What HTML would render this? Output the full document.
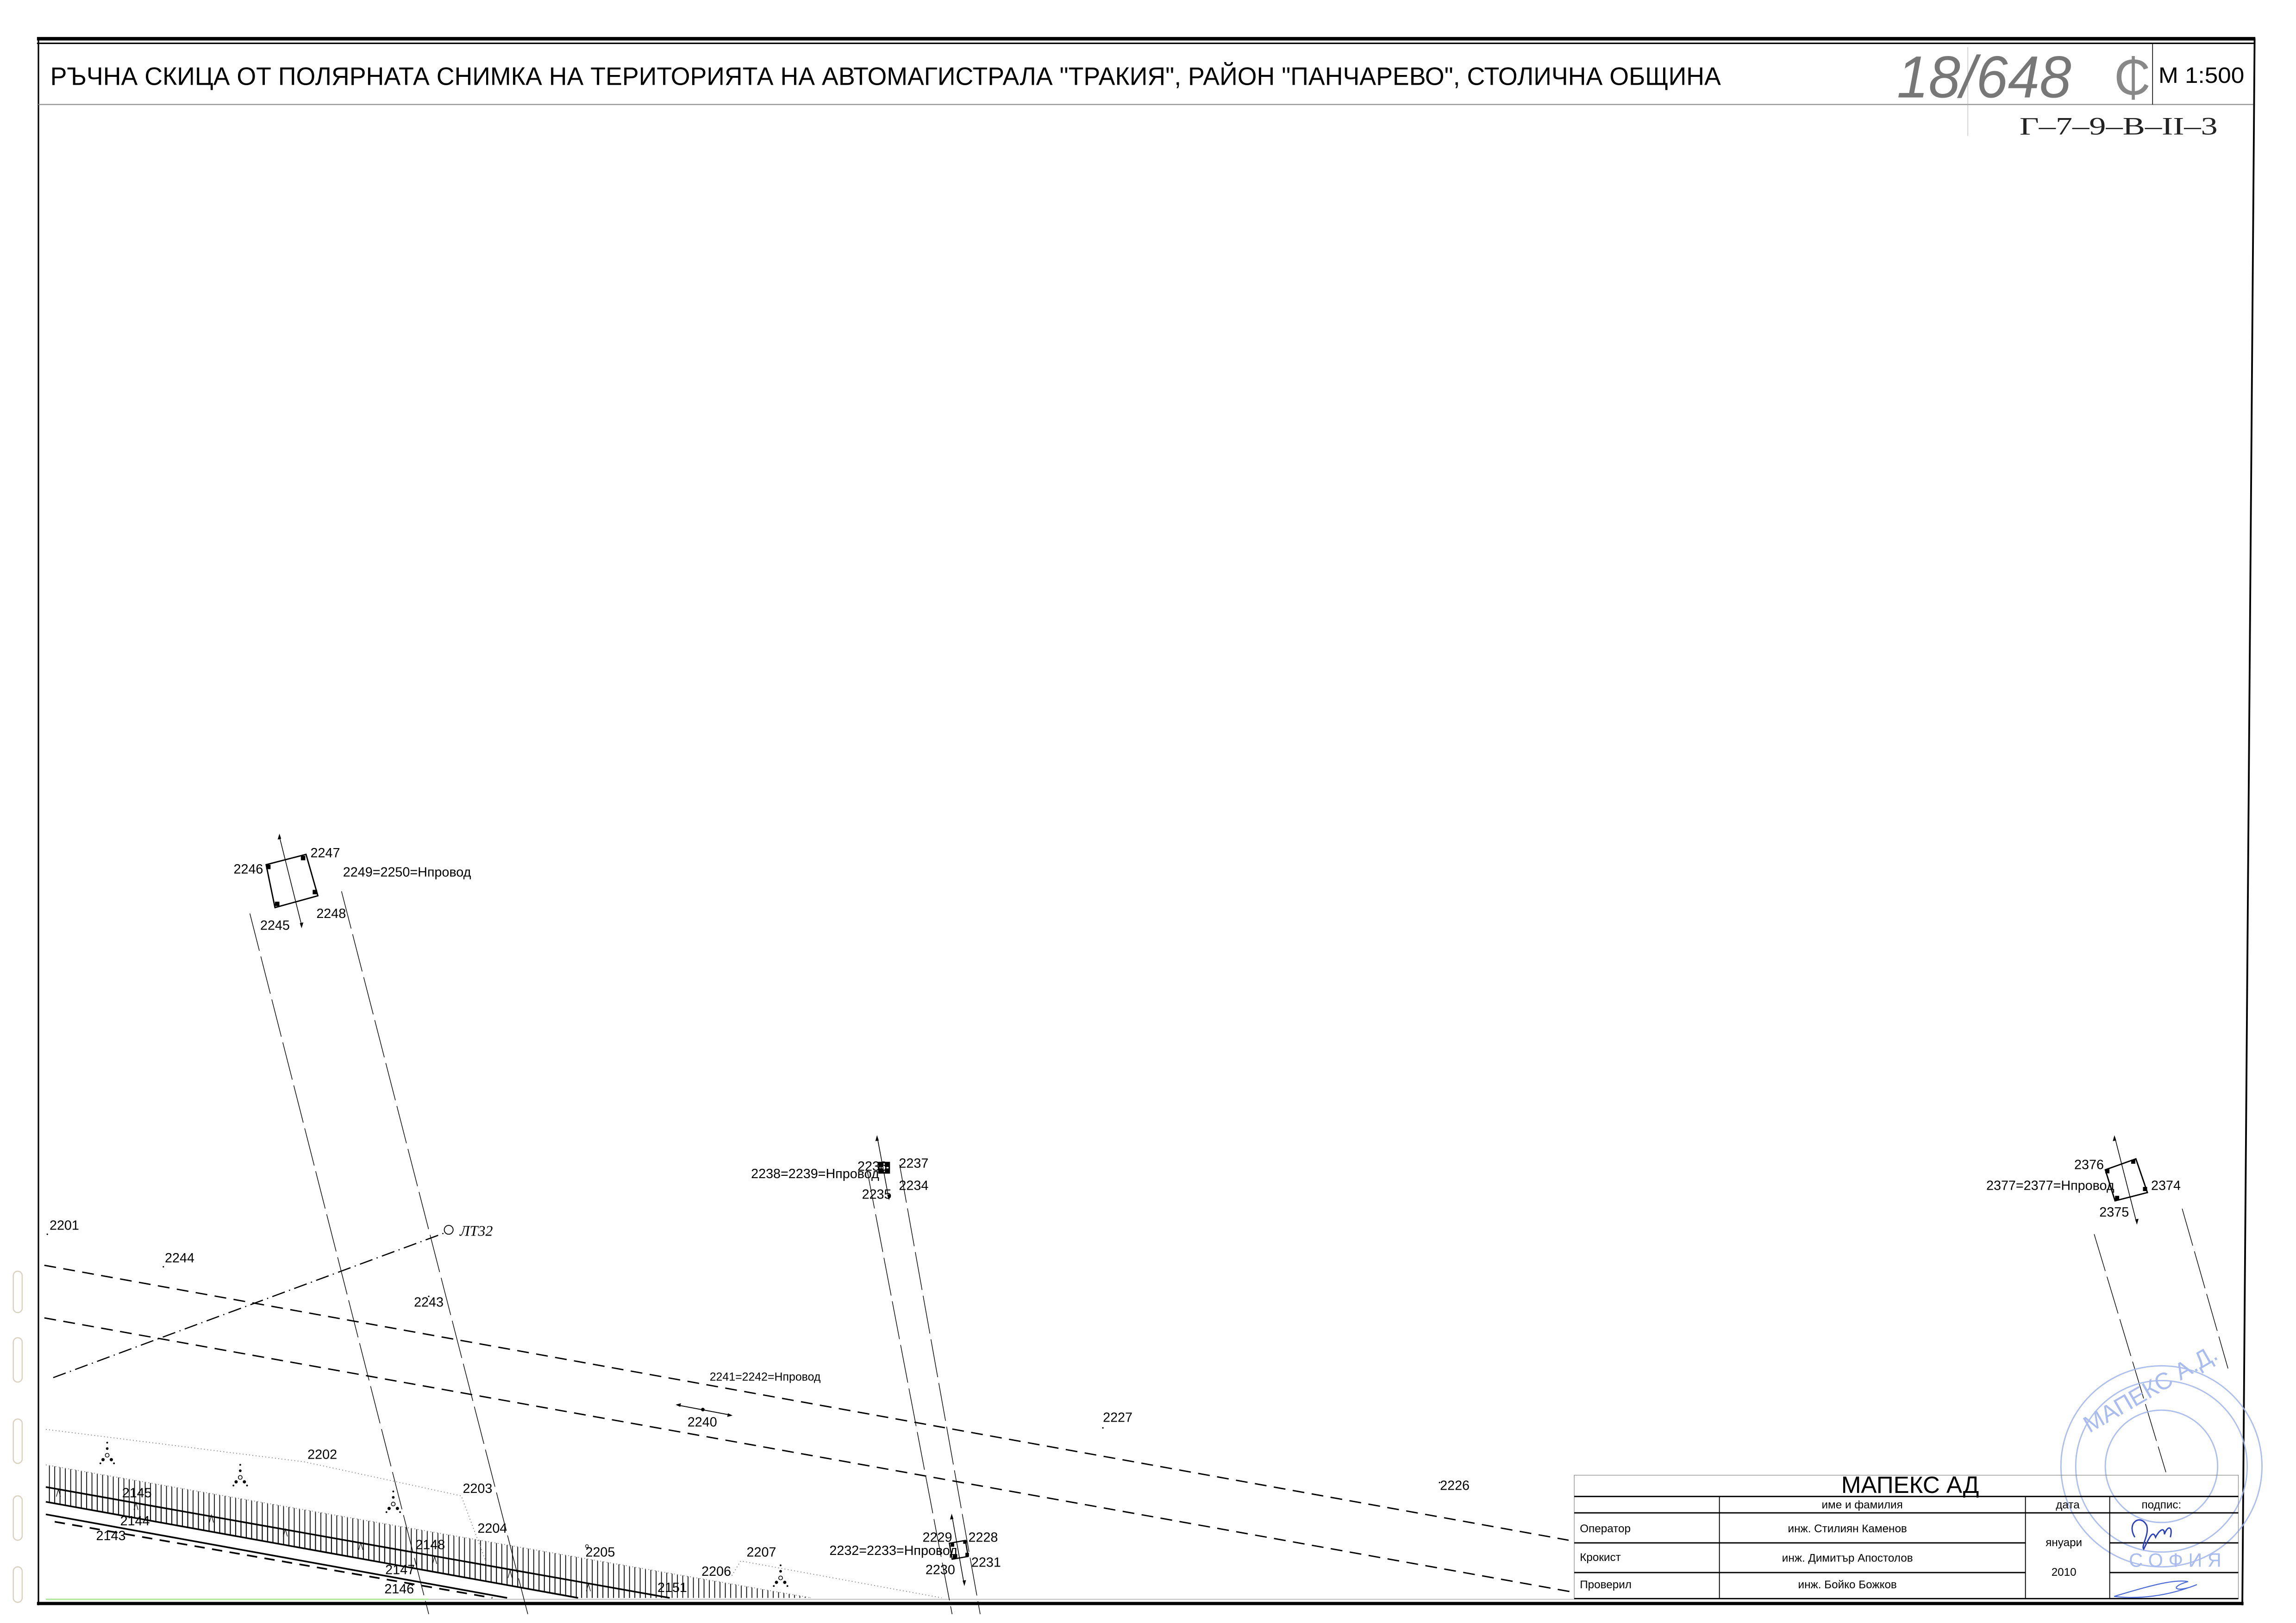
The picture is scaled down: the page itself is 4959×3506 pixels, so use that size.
<!DOCTYPE html>
<html><head><meta charset="utf-8"><style>
html,body{margin:0;padding:0;background:#fff;}
svg{display:block;}
.l{font-family:"Liberation Sans Narrow","Liberation Sans","DejaVu Sans",sans-serif;font-size:9px;fill:#000;}
.t{font-family:"Liberation Sans","DejaVu Sans",sans-serif;fill:#000;}
.d{stroke:#000;stroke-width:0.9;fill:none;stroke-dasharray:8 5;}
.s{stroke:#000;stroke-width:0.45;fill:none;stroke-dasharray:26 4;}
</style></head><body>
<svg width="4959" height="3506" viewBox="0 0 1553 1098" preserveAspectRatio="none" xmlns="http://www.w3.org/2000/svg">
<defs>
<pattern id="h" width="3.6" height="20" patternUnits="userSpaceOnUse">
<line x1="1" y1="0" x2="1" y2="20" stroke="#000" stroke-width="0.55"/>
</pattern>
<g id="tree">
<circle cx="0" cy="0" r="0.6" fill="#000"/>
<circle cx="0" cy="4" r="0.9" fill="#000"/>
<circle cx="0" cy="8.5" r="1.3" fill="none" stroke="#000" stroke-width="0.5"/>
<circle cx="-2.8" cy="11.5" r="1.1" fill="#000"/>
<circle cx="2.8" cy="11.5" r="1.1" fill="#000"/>
<circle cx="-4.6" cy="14" r="0.6" fill="#000"/>
<circle cx="4.6" cy="14" r="0.6" fill="#000"/>
</g>
<path id="lam" d="M-1.4,2.5 L0,-2.5 L1.4,2.5" fill="none" stroke="#000" stroke-width="0.4"/>
</defs>
<rect width="1553" height="1098" fill="#fff"/>

<g fill="none" stroke="#d8d2c0" stroke-width="0.8">
<rect x="9" y="860" width="6" height="28" rx="3"/>
<rect x="9" y="905" width="6" height="30" rx="3"/>
<rect x="9" y="960" width="6" height="30" rx="3"/>
<rect x="9" y="1012" width="6" height="30" rx="3"/>
<rect x="9" y="1060" width="6" height="24" rx="3"/>
</g>

<line x1="25" y1="26.2" x2="1525.5" y2="26.2" stroke="#000" stroke-width="2.4"/>
<line x1="25" y1="29.3" x2="1525.5" y2="29.3" stroke="#000" stroke-width="1"/>
<line x1="26" y1="26" x2="26" y2="1086" stroke="#000" stroke-width="1"/>
<line x1="1525" y1="26" x2="1516.7" y2="1086" stroke="#000" stroke-width="1.2"/>
<line x1="25" y1="1084.8" x2="1517.5" y2="1084.8" stroke="#000" stroke-width="2.2"/>
<line x1="26" y1="70.7" x2="1524" y2="70.7" stroke="#999" stroke-width="0.8"/>
<line x1="1456" y1="29" x2="1456" y2="70.7" stroke="#000" stroke-width="0.5"/>
<line x1="1331" y1="32" x2="1331" y2="92" stroke="#aaa" stroke-width="0.3"/>

<text class="t" x="34" y="57.5" font-size="17" textLength="1130" lengthAdjust="spacingAndGlyphs">РЪЧНА  СКИЦА ОТ ПОЛЯРНАТА СНИМКА НА ТЕРИТОРИЯТА НА АВТОМАГИСТРАЛА "ТРАКИЯ", РАЙОН "ПАНЧАРЕВО", СТОЛИЧНА ОБЩИНА</text>
<text class="t" x="1460" y="56" font-size="15" textLength="58" lengthAdjust="spacingAndGlyphs">М 1:500</text>
<text x="1283" y="66" font-family="Liberation Sans, sans-serif" font-size="40" fill="#777" textLength="118" lengthAdjust="spacingAndGlyphs" font-style="italic">18/648</text>
<text x="1430" y="64" font-family="Liberation Sans, sans-serif" font-size="34" fill="#888">₵</text>
<text x="1366" y="91" font-family="Liberation Serif, serif" font-size="17" fill="#222" textLength="134" lengthAdjust="spacingAndGlyphs">Г–7–9–В–II–3</text>

<polygon points="31,991 549,1081 391,1081 31,1016" fill="url(#h)"/>
<polygon points="31,1006 453,1081 391,1081 31,1016" fill="url(#h)"/>
<line x1="31" y1="1006" x2="453" y2="1081" stroke="#000" stroke-width="1.1"/>
<line x1="31" y1="1016" x2="391" y2="1081" stroke="#000" stroke-width="1.1"/>
<line x1="31" y1="1024.5" x2="343" y2="1081" stroke="#000" stroke-width="1.1"/>
<line x1="37" y1="1029.5" x2="333" y2="1081" stroke="#000" stroke-width="1.1" stroke-dasharray="7 5"/>
<g>
<use href="#lam" x="39.5" y="1010"/><use href="#lam" x="92" y="1019"/><use href="#lam" x="143" y="1027.5"/>
<use href="#lam" x="193" y="1037"/><use href="#lam" x="244" y="1046"/><use href="#lam" x="294" y="1055.5"/>
<use href="#lam" x="345" y="1065"/><use href="#lam" x="398" y="1074"/>
</g>
<g stroke="#888" stroke-width="0.6" fill="none" stroke-dasharray="0.6 1.6">
<polyline points="31,967 206,989 312,1012 318,1028 330,1060"/>
<line x1="31" y1="991" x2="549" y2="1081"/>
<polyline points="495,1066 501,1056 637,1081"/>
</g>
<line x1="31" y1="1082" x2="290" y2="1082" stroke="#aee89a" stroke-width="1"/>
<line x1="290" y1="1082" x2="1065" y2="1082" stroke="#c8c8c8" stroke-width="0.8"/>

<use href="#tree" x="72.5" y="976"/>
<use href="#tree" x="162.5" y="991"/>
<use href="#tree" x="266" y="1009"/>
<use href="#tree" x="528" y="1059"/>

<line class="d" x1="30" y1="856" x2="1061" y2="1042"/>
<line class="d" x1="30" y1="891.6" x2="1065" y2="1077.3"/>
<line x1="36" y1="932" x2="301" y2="834" stroke="#000" stroke-width="0.8" stroke-dasharray="9 3 0.8 3"/>
<circle cx="303.5" cy="832" r="3" fill="#fff" stroke="#000" stroke-width="0.6"/>
<text x="311" y="836" font-family="Liberation Serif, serif" font-style="italic" font-size="10">ЛТ32</text>

<line class="s" x1="169" y1="618" x2="290" y2="1092"/>
<line class="s" x1="231" y1="603" x2="357" y2="1092"/>
<polygon points="180,585 207,578 215,606 186,614" fill="none" stroke="#000" stroke-width="0.9"/>
<g fill="#000"><rect x="180" y="585" width="3" height="3"/><rect x="203.5" y="579" width="3" height="3"/><rect x="211.5" y="602" width="3" height="3"/><rect x="186" y="610" width="3" height="3"/></g>
<line x1="189" y1="566" x2="204" y2="626" stroke="#000" stroke-width="0.5"/>
<path d="M189,564 l-1.2,4 l2.4,-0.6z M204,628 l1.2,-4 l-2.4,0.6z" fill="#000"/>
<text class="l" x="210" y="580">2247</text>
<text class="l" x="158" y="591">2246</text>
<text class="l" x="232" y="593">2249=2250=Нпровод</text>
<text class="l" x="176" y="629">2245</text>
<text class="l" x="214" y="621">2248</text>

<line class="s" x1="586.6" y1="792" x2="644" y2="1092"/>
<line class="s" x1="608.5" y1="788" x2="663" y2="1092"/>
<rect x="594" y="786" width="8" height="8" fill="#000"/>
<path d="M598,787 v6 M595,790 h6" stroke="#fff" stroke-width="1"/>
<line x1="593.5" y1="770" x2="601" y2="810" stroke="#000" stroke-width="0.5"/>
<path d="M593.2,768 l-1.1,4 l2.3,-0.4z M601.3,812 l1.1,-4 l-2.3,0.4z" fill="#000"/>
<text class="l" x="508" y="797">2238=2239=Нпровод</text>
<text class="l" x="580" y="792">2236</text>
<text class="l" x="608" y="790">2237</text>
<text class="l" x="608" y="805">2234</text>
<text class="l" x="583" y="811">2235</text>

<rect x="643" y="1043" width="11" height="11" fill="none" stroke="#000" stroke-width="0.8" transform="rotate(-10 648.5 1048.5)"/>
<g fill="#000"><rect x="643" y="1044" width="2.4" height="2.4"/><rect x="651.5" y="1042" width="2.4" height="2.4"/><rect x="644.5" y="1052" width="2.4" height="2.4"/><rect x="653" y="1050.5" width="2.4" height="2.4"/></g>
<line x1="644" y1="1026" x2="652" y2="1071" stroke="#000" stroke-width="0.5"/>
<path d="M643.7,1024 l-1.1,4 l2.3,-0.4z M652.3,1073 l1.1,-4 l-2.3,0.4z" fill="#000"/>
<text class="l" x="561" y="1052">2232=2233=Нпровод</text>
<text class="l" x="624" y="1043">2229</text>
<text class="l" x="655" y="1043">2228</text>
<text class="l" x="626" y="1065">2230</text>
<text class="l" x="657" y="1060">2231</text>

<line x1="458" y1="950.5" x2="494.5" y2="957.4" stroke="#000" stroke-width="0.6"/>
<path d="M457,950.3 l3.6,-1 l-0.5,2.5z M495.5,957.6 l-3.6,1 l0.5,-2.5z" fill="#000"/>
<circle cx="475.4" cy="953.6" r="1.2" fill="#000"/>

<line class="s" x1="1416.5" y1="835" x2="1465" y2="996"/>
<line class="s" x1="1476" y1="817.7" x2="1507" y2="925.8"/>
<polygon points="1424,791.4 1444.7,784 1452.5,806.8 1430.6,812.4" fill="none" stroke="#000" stroke-width="0.9"/>
<g fill="#000"><rect x="1424" y="791" width="2.8" height="2.8"/><rect x="1441.5" y="784.5" width="2.8" height="2.8"/><rect x="1449.5" y="803" width="2.8" height="2.8"/><rect x="1430.6" y="809" width="2.8" height="2.8"/></g>
<line x1="1430.6" y1="770" x2="1445" y2="826.5" stroke="#000" stroke-width="0.5"/>
<path d="M1430.2,768 l-1.1,4 l2.3,-0.5z M1445.4,828.5 l1.1,-4 l-2.3,0.5z" fill="#000"/>
<text class="l" x="1403" y="791">2376</text>
<text class="l" x="1343.5" y="805" font-size="7.6">2377=2377=Нпровод</text>
<text class="l" x="1455" y="805">2374</text>
<text class="l" x="1420" y="823">2375</text>

<g class="l">
<text x="33.5" y="832">2201</text>
<text x="111.5" y="854">2244</text>
<text x="280" y="884">2243</text>
<text x="480" y="934" font-size="7.8">2241=2242=Нпровод</text>
<text x="465" y="965">2240</text>
<text x="746" y="962">2227</text>
<text x="974" y="1008">2226</text>
<text x="208" y="987">2202</text>
<text x="313" y="1010">2203</text>
<text x="323" y="1037">2204</text>
<text x="396" y="1053">2205</text>
<text x="474.5" y="1066">2206</text>
<text x="505" y="1053">2207</text>
<text x="82.6" y="1013">2145</text>
<text x="81.3" y="1032">2144</text>
<text x="65" y="1042">2143</text>
<text x="281" y="1048">2148</text>
<text x="260.6" y="1065">2147</text>
<text x="260" y="1078">2146</text>
<text x="444.7" y="1077">2151</text>
</g>
<g fill="#000"><circle cx="32" cy="835" r="0.5"/><circle cx="110.5" cy="857" r="0.5"/><circle cx="290" cy="877" r="0.5"/><circle cx="746" cy="966" r="0.5"/><circle cx="973.7" cy="1003" r="0.5"/><circle cx="397" cy="1046" r="1" fill="none" stroke="#000" stroke-width="0.4"/></g>

<g fill="none" stroke="#9fb4ea" stroke-width="0.9" opacity="0.85">
<circle cx="1462" cy="992" r="68"/>
<circle cx="1462" cy="992" r="58"/>
<circle cx="1462" cy="992" r="38"/>
</g>
<text x="1412" y="955" font-family="Liberation Sans, sans-serif" font-size="16" fill="#a9bcef" transform="rotate(-30 1440 960)">МАПЕКС А.Д.</text>
<text x="1440" y="1060" font-family="Liberation Sans, sans-serif" font-size="13" fill="#a9bcef">С О Ф И Я</text>

<g stroke="#000" fill="none">
<rect x="1064.8" y="998" width="449.2" height="83.5" stroke-width="0.4" stroke="#888"/>
<line x1="1064.8" y1="1012.4" x2="1514" y2="1012.4" stroke-width="0.9"/>
<line x1="1064.8" y1="1023.5" x2="1514" y2="1023.5" stroke-width="0.9"/>
<line x1="1064.8" y1="1043.8" x2="1370" y2="1043.8" stroke-width="0.9"/>
<line x1="1427" y1="1043.8" x2="1514" y2="1043.8" stroke-width="0.9"/>
<line x1="1064.8" y1="1063.9" x2="1370" y2="1063.9" stroke-width="0.9"/>
<line x1="1427" y1="1063.9" x2="1514" y2="1063.9" stroke-width="0.9"/>
<line x1="1064.8" y1="1081.5" x2="1514" y2="1081.5" stroke-width="0.9"/>
<line x1="1163" y1="1012.4" x2="1163" y2="1081.5" stroke-width="0.6"/>
<line x1="1370" y1="1012.4" x2="1370" y2="1081.5" stroke-width="0.6"/>
<line x1="1427" y1="1012.4" x2="1427" y2="1081.5" stroke-width="0.6"/>
</g>
<text class="t" x="1292" y="1010" font-size="16" text-anchor="middle">МАПЕКС   АД</text>
<g class="t" font-size="7.6">
<text x="1259.6" y="1020.5" text-anchor="middle">име и фамилия</text>
<text x="1398.6" y="1020.5" text-anchor="middle">дата</text>
<text x="1462" y="1020.5" text-anchor="middle">подпис:</text>
<text x="1068.6" y="1036.6">Оператор</text>
<text x="1068.6" y="1056">Крокист</text>
<text x="1068.6" y="1074.5">Проверил</text>
<text x="1249.6" y="1036.6" text-anchor="middle">инж. Стилиян Каменов</text>
<text x="1249.6" y="1056.5" text-anchor="middle">инж. Димитър Апостолов</text>
<text x="1249.6" y="1074.5" text-anchor="middle">инж. Бойко Божков</text>
<text x="1396" y="1046" text-anchor="middle">януари</text>
<text x="1396" y="1066" text-anchor="middle">2010</text>
</g>
<path d="M1444,1040 c-6,-10 4,-16 8,-8 c2,6 -4,14 -2,16 c3,-6 6,-14 8,-8 c2,-4 6,-8 6,-2 c2,-6 6,-6 4,2" fill="none" stroke="#2a3fc0" stroke-width="0.9"/>
<path d="M1430,1080 c20,-6 40,-12 50,-10 c-14,4 -8,8 6,2 c-20,8 -40,10 -56,8" fill="none" stroke="#4a6ad8" stroke-width="0.7"/>
</svg>
</body></html>
